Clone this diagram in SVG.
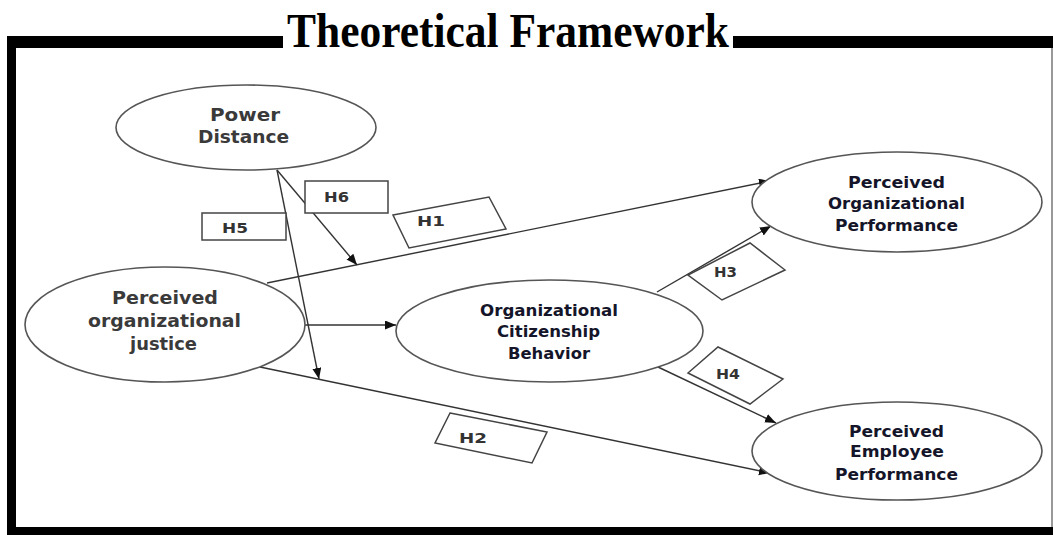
<svg xmlns="http://www.w3.org/2000/svg" width="1053" height="535" viewBox="0 0 1053 535">
<style>
.node ellipse{fill:#fff;stroke:#555;stroke-width:1.6}
.lbl{fill:#fff;stroke:#444;stroke-width:1.5}
.t1{font-family:"DejaVu Sans",Verdana,sans-serif;font-size:17px;font-weight:bold;fill:#3a3a3a;text-anchor:middle}
.t2{font-family:"DejaVu Sans",Verdana,sans-serif;font-size:15.5px;font-weight:bold;fill:#15152a;text-anchor:middle}
.th{font-family:"DejaVu Sans",Verdana,sans-serif;font-size:14.5px;font-weight:bold;fill:#333}
.edge{stroke:#333;stroke-width:1.4;fill:none;marker-end:url(#ah)}
</style>
<defs>
<marker id="ah" markerUnits="userSpaceOnUse" markerWidth="12" markerHeight="10" refX="11" refY="4.5" orient="auto">
<path d="M0,0 L11,4.5 L0,9 z" fill="#111"/>
</marker>
</defs>
<rect x="0" y="0" width="1053" height="535" fill="#fff"/>
<g id="frame">
<rect x="7" y="36" width="276" height="12" fill="#000"/>
<rect x="733" y="36" width="320" height="12" fill="#000"/>
<rect x="7" y="36" width="9" height="499" fill="#000"/>
<rect x="7" y="527" width="1046" height="8" fill="#000"/>
<line x1="1052" y1="48" x2="1052" y2="527" stroke="#777" stroke-width="1.5"/>
<text x="508" y="47" font-family="'Liberation Serif','Times New Roman',serif" font-size="48" font-weight="bold" text-anchor="middle" textLength="442" lengthAdjust="spacingAndGlyphs" fill="#000">Theoretical Framework</text>
</g>
<g id="connectors">
<line class="edge" x1="267" y1="283" x2="770" y2="181"/>
<line class="edge" x1="277" y1="170" x2="357" y2="265"/>
<line class="edge" x1="277" y1="170" x2="319" y2="379"/>
<line class="edge" x1="305" y1="325" x2="396" y2="325"/>
<line class="edge" x1="260" y1="367" x2="770" y2="473"/>
<line class="edge" x1="657" y1="292" x2="771" y2="226"/>
<line class="edge" x1="658" y1="367" x2="776" y2="423"/>
</g>
<g id="labels">
<g id="H6"><rect class="lbl" x="305" y="181" width="83" height="32"/><text class="th" x="324" y="202" textLength="25" lengthAdjust="spacingAndGlyphs">H6</text></g>
<g id="H5"><rect class="lbl" x="202" y="213" width="84" height="27"/><text class="th" x="222" y="233" textLength="26" lengthAdjust="spacingAndGlyphs">H5</text></g>
<g id="H1"><polygon class="lbl" points="393,215 489,197 506,229 409,248"/><text class="th" x="417" y="226" textLength="28" lengthAdjust="spacingAndGlyphs">H1</text></g>
<g id="H3"><polygon class="lbl" points="688,275 750,243 785,270 722,300"/><text class="th" x="714" y="277" textLength="23" lengthAdjust="spacingAndGlyphs">H3</text></g>
<g id="H4"><polygon class="lbl" points="688,373 718,347 783,379 750,404"/><text class="th" x="716" y="379" textLength="24" lengthAdjust="spacingAndGlyphs">H4</text></g>
<g id="H2"><polygon class="lbl" points="450,413 547,432 532,463 435,443"/><text class="th" x="459" y="443" textLength="28" lengthAdjust="spacingAndGlyphs">H2</text></g>
</g>
<g id="power-distance" class="node">
<ellipse cx="246" cy="127.5" rx="130" ry="42.5"/>
<text class="t1" x="245" y="121" textLength="70" lengthAdjust="spacingAndGlyphs">Power</text>
<text class="t1" x="243.5" y="143" textLength="91" lengthAdjust="spacingAndGlyphs">Distance</text>
</g>
<g id="perceived-organizational-justice" class="node">
<ellipse cx="165" cy="324.5" rx="140" ry="57.5"/>
<text class="t1" x="165" y="304" textLength="106" lengthAdjust="spacingAndGlyphs">Perceived</text>
<text class="t1" x="164.5" y="327" textLength="153" lengthAdjust="spacingAndGlyphs">organizational</text>
<text class="t1" x="163.5" y="350" textLength="67" lengthAdjust="spacingAndGlyphs">justice</text>
</g>
<g id="organizational-citizenship-behavior" class="node">
<ellipse cx="549.5" cy="331" rx="153.5" ry="51"/>
<text class="t2" x="549" y="316" textLength="138" lengthAdjust="spacingAndGlyphs">Organizational</text>
<text class="t2" x="548.5" y="337" textLength="103" lengthAdjust="spacingAndGlyphs">Citizenship</text>
<text class="t2" x="549" y="359" textLength="82" lengthAdjust="spacingAndGlyphs">Behavior</text>
</g>
<g id="perceived-organizational-performance" class="node">
<ellipse cx="897" cy="202" rx="145" ry="50"/>
<text class="t2" x="896.5" y="188" textLength="97" lengthAdjust="spacingAndGlyphs">Perceived</text>
<text class="t2" x="896.5" y="209" textLength="137" lengthAdjust="spacingAndGlyphs">Organizational</text>
<text class="t2" x="896.5" y="231" textLength="123" lengthAdjust="spacingAndGlyphs">Performance</text>
</g>
<g id="perceived-employee-performance" class="node">
<ellipse cx="897" cy="451" rx="145" ry="49"/>
<text class="t2" x="896.5" y="437" textLength="95" lengthAdjust="spacingAndGlyphs">Perceived</text>
<text class="t2" x="897" y="457" textLength="94" lengthAdjust="spacingAndGlyphs">Employee</text>
<text class="t2" x="896.5" y="480" textLength="123" lengthAdjust="spacingAndGlyphs">Performance</text>
</g>
</svg>
